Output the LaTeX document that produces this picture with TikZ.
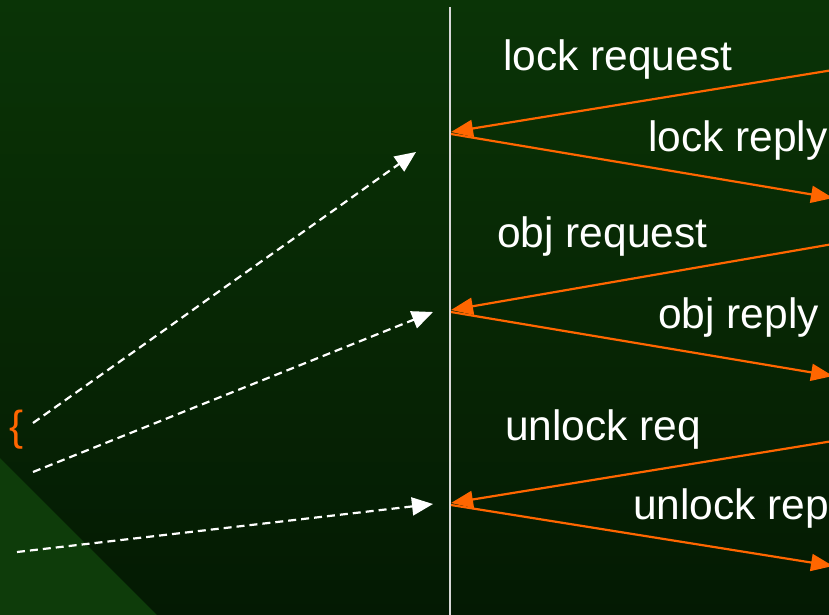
\documentclass[tikz,border=0pt]{standalone}
\usepackage{fontspec}
\setmainfont{Liberation Sans}
\usetikzlibrary{arrows.meta}
\definecolor{bgtop}{HTML}{0A3406}
\definecolor{bgbot}{HTML}{041A03}
\definecolor{wedge}{HTML}{0E3C0A}
\definecolor{msg}{HTML}{FF6600}
\definecolor{rail}{HTML}{D8D8D8}
\tikzset{
  msgline/.style={draw=msg, line width=2.2pt, -{Triangle[length=22pt,width=17pt]}},
  callline/.style={draw=white, line width=2.2pt, dash pattern=on 8pt off 5pt,
    -{Triangle[length=21pt,width=18pt]}},
  msglabel/.style={anchor=base west, text=white, inner sep=0pt,
    font=\fontsize{42.5}{50}\selectfont}
}
\begin{document}
\begin{tikzpicture}[x=1pt,y=-1pt]
  \useasboundingbox (0,0) rectangle (829,615);
  \begin{scope}
    \clip (0,0) rectangle (829,615);
    % background
    \shade[top color=bgtop, bottom color=bgbot] (0,0) rectangle (829,615);
    \fill[wedge] (0,458) -- (157,615) -- (0,615) -- cycle;
    % server time line
    \coordinate (top) at (450,7);
    \coordinate (bot) at (450,615);
    \draw[rail, line width=2pt] (top) -- (bot);
    % message end points on the time line
    \coordinate (s1) at (451,132);
    \coordinate (s2) at (451,134);
    \coordinate (s3) at (451,310);
    \coordinate (s4) at (451,312);
    \coordinate (s5) at (451,503);
    \coordinate (s6) at (451,505);
    % message end points on the right
    \coordinate (r1) at (833,70);
    \coordinate (r2) at (833,198);
    \coordinate (r3) at (833,244);
    \coordinate (r4) at (833,376);
    \coordinate (r5) at (833,441);
    \coordinate (r6) at (833,566);
    \draw[msgline] (r1) -- (s1);
    \draw[msgline] (s2) -- (r2);
    \draw[msgline] (r3) -- (s3);
    \draw[msgline] (s4) -- (r4);
    \draw[msgline] (r5) -- (s5);
    \draw[msgline] (s6) -- (r6);
    % labels
    \node[msglabel] (l1) at (503,71) {lock request};
    \node[msglabel] (l2) at (648,151) {lock reply};
    \node[msglabel] (l3) at (497,247) {obj request};
    \node[msglabel] (l4) at (658,328) {obj reply};
    \node[msglabel] (l5) at (505,440) {unlock req};
    \node[msglabel] (l6) at (633,519) {unlock rep};
    % client side
    \node[text=msg, inner sep=0pt, font=\fontsize{42}{46}\selectfont] (brace) at (17,430) {\{};
    \coordinate (c1) at (33,423);
    \coordinate (c2) at (33,472);
    \coordinate (c3) at (17,552);
    \coordinate (d1) at (416,152);
    \coordinate (d2) at (433,312);
    \coordinate (d3) at (433,504);
    \draw[callline] (c1) -- (d1);
    \draw[callline] (c2) -- (d2);
    \draw[callline] (c3) -- (d3);
  \end{scope}
\end{tikzpicture}
\end{document}
